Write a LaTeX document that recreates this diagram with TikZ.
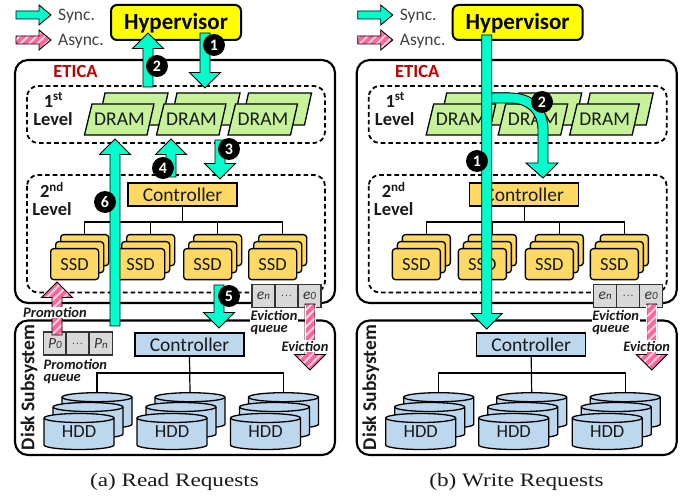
\documentclass[tikz,border=0pt]{standalone}
\usepackage{fontspec}
\setsansfont{Carlito}
\newfontfamily\capfont{Liberation Serif}
\usetikzlibrary{calc,patterns.meta}
\definecolor{synccol}{HTML}{00FFCC}
\definecolor{asynccol}{HTML}{FF6699}
\definecolor{dramcol}{HTML}{C6F29A}
\definecolor{ssdcol}{HTML}{FFD966}
\definecolor{hddcol}{HTML}{BDD7EE}
\definecolor{queuecol}{HTML}{D9D9D9}
\definecolor{hypcol}{HTML}{FFFF00}
\definecolor{txtcol}{HTML}{1A1A1A}
\tikzset{
  txt/.style={font=\sffamily\fontsize{#1}{#1}\selectfont,text=txtcol,inner sep=0pt},
  boldtxt/.style={font=\sffamily\bfseries\fontsize{#1}{#1}\selectfont,text=txtcol,inner sep=0pt},
  outerbox/.style={draw=black,line width=2.1pt,rounded corners=13pt},
  levelbox/.style={draw=black,line width=1.8pt,rounded corners=11pt,dash pattern=on 4.6pt off 3pt},
  plainbox/.style={draw=black,line width=1.4pt,inner sep=0pt,font=\sffamily\fontsize{19.5}{19.5}\selectfont,text=txtcol},
  ctrlbox/.style={plainbox,minimum width=109pt,minimum height=23pt},
  ssdbox/.style={draw=black,line width=1.3pt,fill=ssdcol,rounded corners=3pt,minimum width=48pt,minimum height=31pt,anchor=north west,inner sep=0pt,font=\sffamily\fontsize{18.5}{18.5}\selectfont,text=txtcol},
  cell/.style={draw=black!80,line width=1.1pt,fill=queuecol,minimum width=23pt,minimum height=23pt,inner sep=0pt,font=\sffamily\fontsize{15.5}{15.5}\selectfont\itshape,text=black!80},
  tree/.style={draw=black,line width=1.2pt},
  syncarrow/.style={fill=synccol,draw=black,line width=0.9pt,line join=miter},
  asyncarrow/.style={draw=black,line width=0.9pt,line join=miter,preaction={fill=asynccol},pattern={Lines[angle=45,distance=6pt,line width=1.8pt]},pattern color=white!75!asynccol},
  stepmark/.style={circle,fill=black,text=white,inner sep=0pt,minimum size=22pt,font=\sffamily\bfseries\fontsize{16}{16}\selectfont},
  boldlabel/.style={font=\sffamily\bfseries\itshape\fontsize{14.5}{14.5}\selectfont,text=txtcol,inner sep=0.4pt,fill=white},
  twolines/.style={boldlabel,align=left,font=\sffamily\bfseries\itshape\fontsize{14.5}{11.5}\selectfont},
  caption/.style={font=\capfont\fontsize{19}{19}\selectfont,text=txtcol,inner sep=0pt},
}
\def\BAs{5}\def\BAw{15.5}\def\BAl{15.5}
\newcommand\blockarrow[3][syncarrow]{%
  \path let \p1=(#2),\p2=(#3),\n1={atan2(\y2-\y1,\x2-\x1)},\n2={veclen(\x2-\x1,\y2-\y1)} in
    \pgfextra{\xdef\BAang{\n1}\xdef\BAlen{\n2}};
  \draw[#1,shift={(#2)},rotate=\BAang]
    (0pt,-\BAs pt) -- (\BAlen-\BAl pt,-\BAs pt) -- (\BAlen-\BAl pt,-\BAw pt) -- (\BAlen,0pt)
    -- (\BAlen-\BAl pt,\BAw pt) -- (\BAlen-\BAl pt,\BAs pt) -- (0pt,\BAs pt) -- cycle;
}
\newcommand\dramunit[2]{%
  \begin{scope}[xshift=#1pt]
    \draw[draw=black,line width=1.3pt,fill=dramcol] (105,93) -- (168,93) -- (161,125) -- (98,125) -- cycle;
    \draw[draw=black,line width=1.3pt,fill=dramcol] (92,104) -- (154,104) -- (147,135) -- (84.5,135) -- cycle;
    \node[txt=19.5] (#2) at (119.5,119) {DRAM};
  \end{scope}
}
\newcommand\ssdstack[3]{% name, x, label
  \node[ssdbox] (#1b) at (#2+10,234) {};
  \node[ssdbox] at (#2+5,241) {};
  \node[ssdbox] (#1) at (#2,248) {#3};
}
\newcommand\cylpart[2]{% x, top centre y
  \draw[draw=black,line width=1.3pt,fill=hddcol] (#1,#2) -- (#1,#2+27)
     arc[start angle=180,end angle=360,x radius=35pt,y radius=4.5pt] -- (#1+70,#2)
     arc[start angle=0,end angle=180,x radius=35pt,y radius=4.5pt] -- cycle;
  \draw[draw=black,line width=1.3pt] (#1,#2) arc[start angle=180,end angle=360,x radius=35pt,y radius=4.5pt];
}
\newcommand\hddstack[2]{% name, x
  \cylpart{#2+18}{397.2}
  \cylpart{#2+9}{407}
  \cylpart{#2}{418}
  \coordinate (#1t) at (#2+53,392.7);
  \node[txt=18.5] (#1) at (#2+35,432) {HDD};
}
\newcommand\panel[2]{% prefix, xshift
  \begin{scope}[xshift=#2pt,name prefix=#1-]
    \node[txt=17.5,anchor=west] (synctext) at (58,16.5) {\color{black!75}Sync.};
    \node[txt=17.5,anchor=west] (asynctext) at (58,41) {\color{black!75}Async.};
    \draw[outerbox] (15,60) rectangle (335,303);
    \draw[outerbox] (15,320.5) rectangle (335,455);
    \draw[levelbox] (27,86) rectangle (325,143);
    \draw[levelbox] (27,175) rectangle (325,292.5);
    \node[font=\sffamily\bfseries\fontsize{18.5}{18.5}\selectfont,text=red!75!black,inner sep=0pt] (etica) at (75.5,72) {ETICA};
    \node[boldtxt=18.5] (la) at (53.5,100) {1\textsuperscript{st}};
    \node[boldtxt=18.5] (lb) at (53,119) {Level};
    \node[boldtxt=18.5] (lc) at (52,190) {2\textsuperscript{nd}};
    \node[boldtxt=18.5] (ld) at (52,209) {Level};
    \dramunit{0}{d1}\dramunit{72}{d2}\dramunit{143.5}{d3}
    \node[ctrlbox,fill=ssdcol] (ctrl) at (182.5,194.5) {Controller};
    \ssdstack{s1}{50}{SSD}\ssdstack{s2}{116}{SSD}\ssdstack{s3}{183}{SSD}\ssdstack{s4}{248}{SSD}
    \coordinate (bus) at (182.5,222);
    \draw[tree] (ctrl.south) -- (bus);
    \draw[tree] (s1b.north) |- (bus);
    \draw[tree] (s2b.north) |- (bus);
    \draw[tree] (s3b.north) |- (bus);
    \draw[tree] (s4b.north) |- (bus);
    \node[ctrlbox,fill=hddcol] (dctrl) at (189.5,344.5) {Controller};
    \hddstack{h1}{44}\hddstack{h2}{137}\hddstack{h3}{230.5}
    \coordinate (dbus) at (189.5,373);
    \draw[tree] (dctrl.south) -- (h2t);
    \draw[tree] (h1t) |- (dbus);
    \draw[tree] (h3t) |- (dbus);
    \node[boldtxt=19.5,rotate=90] (disk) at (29,387.5) {Disk Subsystem};
    \node[cell] (en) at (263.5,296) {e{\fontsize{11}{11}\selectfont n}};
    \node[cell] (edots) at (286.5,296) {\normalfont ...};
    \node[cell] (ez) at (309.5,296) {e{\fontsize{11}{11}\selectfont 0}};
  \end{scope}
}
\newcommand\legendarrows[2]{% prefix, offset
  \begingroup
  \def\BAs{4}\def\BAw{10}\def\BAl{12}
  \coordinate (#1ls) at (#2+16,15); \coordinate (#1le) at (#2+51,15);
  \blockarrow{#1ls}{#1le}
  \coordinate (#1ms) at (#2+16,40); \coordinate (#1me) at (#2+51,40);
  \blockarrow[asyncarrow]{#1ms}{#1me}
  \endgroup
}
\newcommand\evictarrow[2]{% prefix, offset
  \coordinate (#1evs) at (#2+310,304); \coordinate (#1eve) at (#2+310,370);
  \blockarrow[asyncarrow]{#1evs}{#1eve}
  \draw[white,line width=1pt] (#2+305,305) -- (#2+305,354);
  \draw[white,line width=1pt] (#2+315,305) -- (#2+315,354);
  \node[twolines,anchor=north west] (#1evq) at (#2+250,310) {Eviction\\queue};
  \node[boldlabel] (#1evl) at (#2+305,346) {Eviction};
}
\newcommand\hyper[2]{%
  \node[draw=black,line width=2pt,fill=hypcol,rounded corners=6pt,minimum width=130pt,minimum height=35pt,inner sep=0pt,text depth=2pt,font=\sffamily\bfseries\fontsize{23}{23}\selectfont,text=black] (#1) at (#2,22.5) {Hypervisor};
}
\begin{document}
\begin{tikzpicture}[x=1pt,y=-1pt]
\useasboundingbox (0,0) rectangle (689,497);
\fill[white] (0,0) rectangle (689,497);
\panel{a}{0}
\panel{b}{341.7}
\legendarrows{la}{0}
\legendarrows{lb}{341.7}
\hyper{hypa}{176}
\hyper{hypb}{517.7}
%% left arrows
\coordinate (a1s) at (205,33); \coordinate (a1e) at (205,88);
\coordinate (a2s) at (148,87); \coordinate (a2e) at (148,33);
\coordinate (a3s) at (220,140); \coordinate (a3e) at (220,179);
\coordinate (a4s) at (171,177); \coordinate (a4e) at (171,139);
\coordinate (a5s) at (219,285); \coordinate (a5e) at (219,328);
\coordinate (a6s) at (115,326); \coordinate (a6e) at (115,139);
\blockarrow{a2s}{a2e}
\blockarrow{a1s}{a1e}
\blockarrow{a3s}{a3e}
\blockarrow{a4s}{a4e}
\blockarrow{a6s}{a6e}
\blockarrow{a5s}{a5e}
\evictarrow{ea}{0}
\node[cell] (pz) at (55,343.5) {P{\fontsize{11}{11}\selectfont 0}};
\coordinate (ps) at (57,335); \coordinate (pe) at (57,282);
\blockarrow[asyncarrow]{ps}{pe}
\node[cell] (pd) at (77.5,343.5) {\normalfont ...};
\node[cell] (pn) at (101,343.5) {P{\fontsize{11}{11}\selectfont n}};
\node[boldlabel] (plab) at (55,312.5) {Promotion};
\node[twolines,anchor=north west,fill=none] (pq) at (43,359) {Promotion\\queue};
\node[stepmark] (ma1) at (214,45) {1};
\node[stepmark] (ma2) at (157,66) {2};
\node[stepmark] (ma3) at (229,149) {3};
\node[stepmark] (ma4) at (163,168) {4};
\node[stepmark] (ma5) at (229,296) {5};
\node[stepmark] (ma6) at (105,202) {6};
\node[caption] (capa) at (174.5,482) {\scalebox{1.22}[1]{(a) Read Requests}};
%% right arrows
\evictarrow{eb}{341.7}
\draw[syncarrow] (487,93) -- (510,93) .. controls (534,93) and (548,108) .. (548,130) -- (548,163) -- (558,163) -- (543,178) -- (526,163) -- (538,163) -- (538,130) .. controls (538,114) and (528,103) .. (510,103) -- (487,103) -- cycle;
\coordinate (b1s) at (486.7,35); \coordinate (b1e) at (486.7,329);
\blockarrow{b1s}{b1e}
\node[stepmark] (mb1) at (477,161) {1};
\node[stepmark] (mb2) at (542,102) {2};
\node[caption] (capb) at (516.5,482) {\scalebox{1.22}[1]{(b) Write Requests}};
\end{tikzpicture}
\end{document}
